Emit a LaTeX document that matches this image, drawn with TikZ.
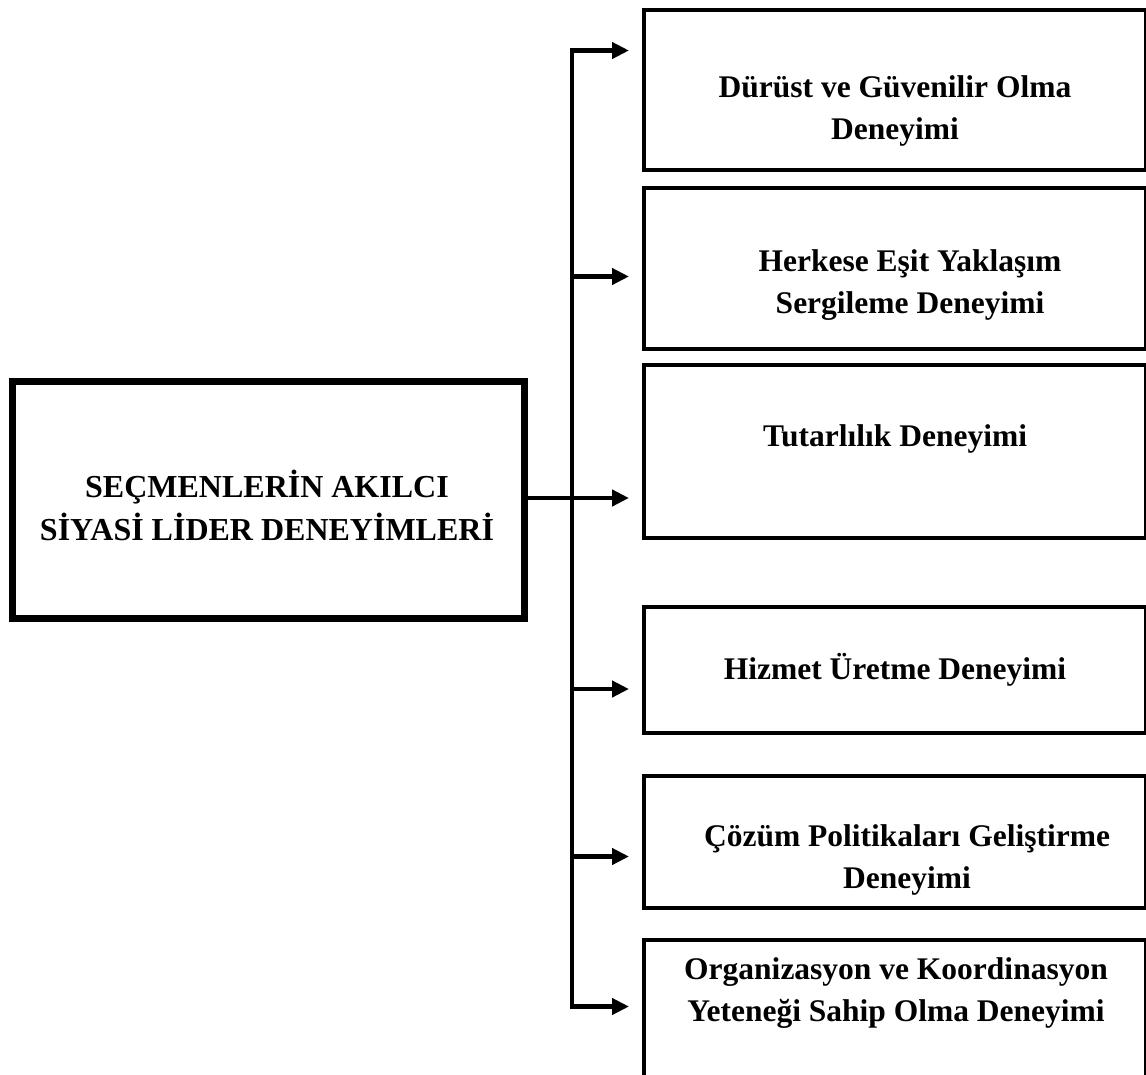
\documentclass[tikz,border=0pt]{standalone}
\usepackage{fontspec}
\setmainfont{Liberation Serif}
\usetikzlibrary{arrows.meta}
\begin{document}
\begin{tikzpicture}[x=1pt,y=-1pt,
  box/.style={draw, line width=4pt, minimum width=502pt, inner sep=0pt, outer sep=0pt},
  rootbox/.style={draw, line width=7pt, minimum width=512pt, minimum height=237pt, inner sep=0pt, outer sep=0pt},
  lbl/.style={font=\bfseries\fontsize{31.5}{42}\selectfont, align=center, inner sep=0pt},
  conn/.style={line width=4.5pt, line join=miter},
  arr/.style={line width=4.5pt, -{Triangle[length=17pt,width=16pt]}},
  arrboth/.style={line width=4.5pt, line join=miter, {Triangle[length=17pt,width=16pt]}-{Triangle[length=17pt,width=16pt]}}
]
\clip (0,0) rectangle (1146,1074);
\fill[white] (0,0) rectangle (1146,1074);

% root box
\node[rootbox] (root) at (268,500) {};
\node[lbl, font=\bfseries\fontsize{32}{43}\selectfont] (rootlbl) at (267,505.5) {SEÇMENLERİN AKILCI\\SİYASİ LİDER DENEYİMLERİ};

% right boxes
\node[box, minimum height=160pt] (b1) at (895,90) {};
\node[box, minimum height=161pt] (b2) at (895,268) {};
\node[box, minimum height=173pt] (b3) at (895,451) {};
\node[box, minimum height=126pt] (b4) at (895,669.6) {};
\node[box, minimum height=132pt] (b5) at (895,842) {};
\node[box, minimum height=200pt] (b6) at (895,1040) {};

\node[lbl] (l1) at (895,111) {Dürüst ve Güvenilir Olma\\Deneyimi};
\node[lbl] (l2) at (910,285) {Herkese Eşit Yaklaşım\\Sergileme Deneyimi};
\node[lbl] (l3) at (895,439) {Tutarlılık Deneyimi};
\node[lbl] (l4) at (895,670) {Hizmet Üretme Deneyimi};
\node[lbl] (l5) at (907,860) {Çözüm Politikaları Geliştirme\\Deneyimi};
\node[lbl] (l6) at (896,993.5) {Organizasyon ve Koordinasyon\\Yeteneği Sahip Olma Deneyimi};

% bus junctions and arrow tips
\coordinate (j1) at (572,50.5);
\coordinate (j2) at (572,276.5);
\coordinate (j3) at (572,498);
\coordinate (j4) at (572,689);
\coordinate (j5) at (572,856.5);
\coordinate (j6) at (572,1006.5);
\coordinate (t1) at (629,50.5);
\coordinate (t2) at (629,276.5);
\coordinate (t3) at (629,498);
\coordinate (t4) at (629,689);
\coordinate (t5) at (629,856.5);
\coordinate (t6) at (629,1006.5);

% connectors
\draw[conn] (root.east |- j3) -- (j3);
\draw[arrboth] (t1) -- (j1) -- (j6) -- (t6);
\draw[arr] (j2) -- (t2);
\draw[arr] (j3) -- (t3);
\draw[arr] (j4) -- (t4);
\draw[arr] (j5) -- (t5);
\end{tikzpicture}
\end{document}
